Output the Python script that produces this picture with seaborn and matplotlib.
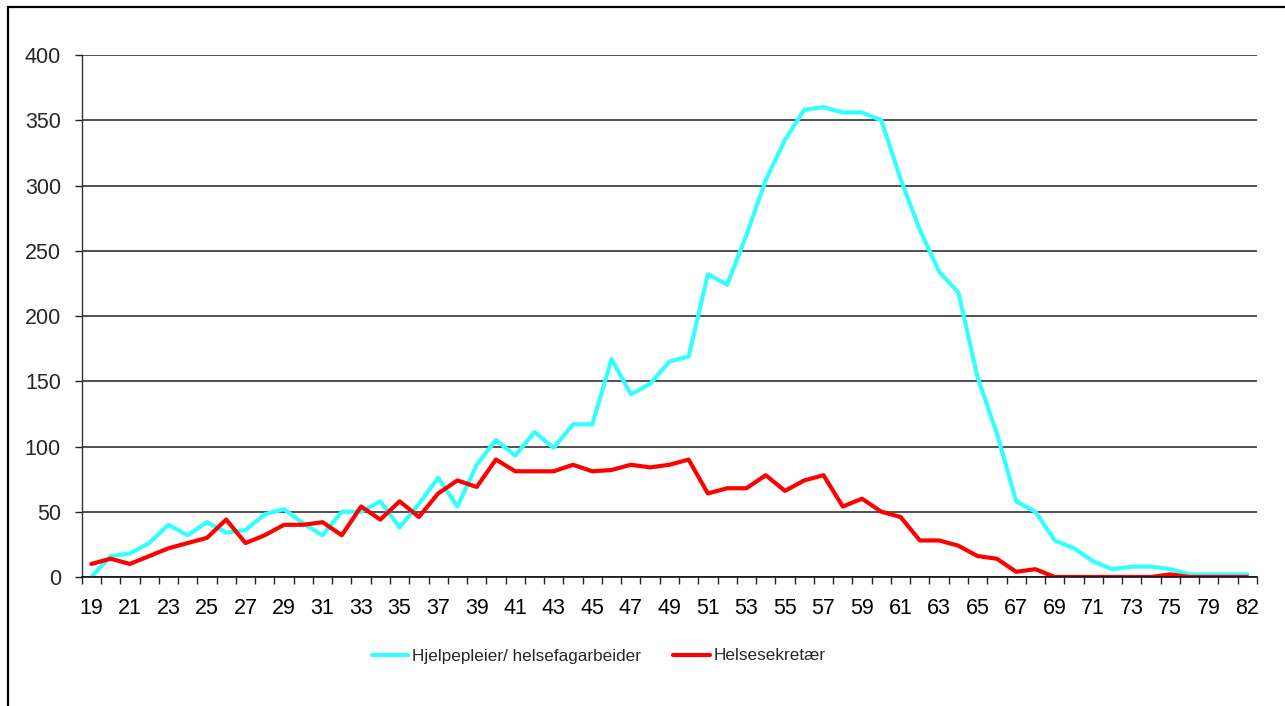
import matplotlib
matplotlib.use("Agg")
import matplotlib.pyplot as plt
import seaborn as sns
import pandas as pd
from matplotlib.patches import Rectangle
from matplotlib.ticker import FixedLocator
from matplotlib import font_manager

ages = [str(a) for a in range(19, 76)] + ["77", "79", "80", "82"]

hjelpepleier = [0, 16, 18, 26, 40, 32, 42, 34, 36, 48,
                52, 41, 32, 50, 50, 58, 38, 56, 76, 54,
                86, 105, 93, 111, 99, 117, 117, 167, 140, 148,
                165, 169, 232, 224, 262, 304, 335, 358, 360, 356,
                356, 350, 305, 266, 234, 218, 153, 110, 58, 50,
                28, 22, 12, 6, 8, 8, 6, 2, 2, 2, 2]

helsesekretaer = [10, 14, 10, 16, 22, 26, 30, 44, 26, 32,
                  40, 40, 42, 32, 54, 44, 58, 46, 64, 74,
                  69, 90, 81, 81, 81, 86, 81, 82, 86, 84,
                  86, 90, 64, 68, 68, 78, 66, 74, 78, 54,
                  60, 50, 46, 28, 28, 24, 16, 14, 4, 6,
                  0, 0, 0, 0, 0, 0, 2, 0, 0, 0, 0]

series_names = ["Hjelpepleier/ helsefagarbeider", "Helsesekretær"]
colors = ["#33FFFF", "#FF0000"]
yticks = [0, 50, 100, 150, 200, 250, 300, 350, 400]

pos = list(range(len(ages)))
df = pd.concat([
    pd.DataFrame({"pos": pos, "value": hjelpepleier, "series": series_names[0]}),
    pd.DataFrame({"pos": pos, "value": helsesekretaer, "series": series_names[1]}),
])

sns.set_style("white")
plt.rcParams["font.family"] = ["Liberation Sans", "DejaVu Sans"]

installed = {f.name for f in font_manager.fontManager.ttflist}
if "Liberation Sans Narrow" in installed:
    legend_font = {"family": ["Liberation Sans Narrow", "DejaVu Sans"], "size": 14.5}
else:
    legend_font = {"family": ["Liberation Sans", "DejaVu Sans"], "size": 12.3}

W, H = 1285, 706
fig = plt.figure(figsize=(W / 100, H / 100), dpi=100)
ax = fig.add_axes([81.7 / W, 1 - 577 / H, (1257 - 81.7) / W, (577 - 55) / H])

sns.lineplot(data=df, x="pos", y="value", hue="series", palette=colors,
             linewidth=3.0, sort=False, ax=ax, legend=True)

ax.set_xlim(-0.5, len(ages) - 0.5)
ax.set_ylim(0, 400)
ax.set_yticks(yticks)
ax.set_yticklabels([str(v) for v in yticks])
ax.yaxis.grid(True, color="#222222", linewidth=1.1)
ax.set_axisbelow(True)

major = pos[::2]
ax.xaxis.set_major_locator(FixedLocator(major))
ax.set_xticklabels([ages[i] for i in major])
ax.xaxis.set_minor_locator(FixedLocator([p - 0.5 for p in pos] + [len(ages) - 0.5]))
ax.tick_params(axis="x", which="major", length=0, pad=15, labelsize=15.5, colors="black")
ax.tick_params(axis="x", which="minor", length=5, width=1.0, color="#222222", direction="out", bottom=True)
ax.tick_params(axis="y", length=5, width=1.0, color="#222222", pad=10, labelsize=15.5, left=True)
ax.set_xlabel("")
ax.set_ylabel("")

for s in ["top", "right"]:
    ax.spines[s].set_visible(False)
ax.spines["left"].set_color("#333333")
ax.spines["left"].set_linewidth(1.0)
ax.spines["bottom"].set_color("#111111")
ax.spines["bottom"].set_linewidth(1.2)

handles, labels = ax.get_legend_handles_labels()
ax.legend(handles, labels, loc="center", bbox_to_anchor=(598.7 / W, 1 - 656 / H),
          bbox_transform=fig.transFigure, ncol=2, frameon=False, prop=legend_font,
          handlelength=2.15, handletextpad=0.2, columnspacing=1.9)

fig.patches.append(Rectangle((8.3 / W, -0.2), 1.5, 0.2 + (1 - 6.7 / H),
                             transform=fig.transFigure, fill=False,
                             edgecolor="black", linewidth=1.6))

fig.savefig("out.png", dpi=100)
